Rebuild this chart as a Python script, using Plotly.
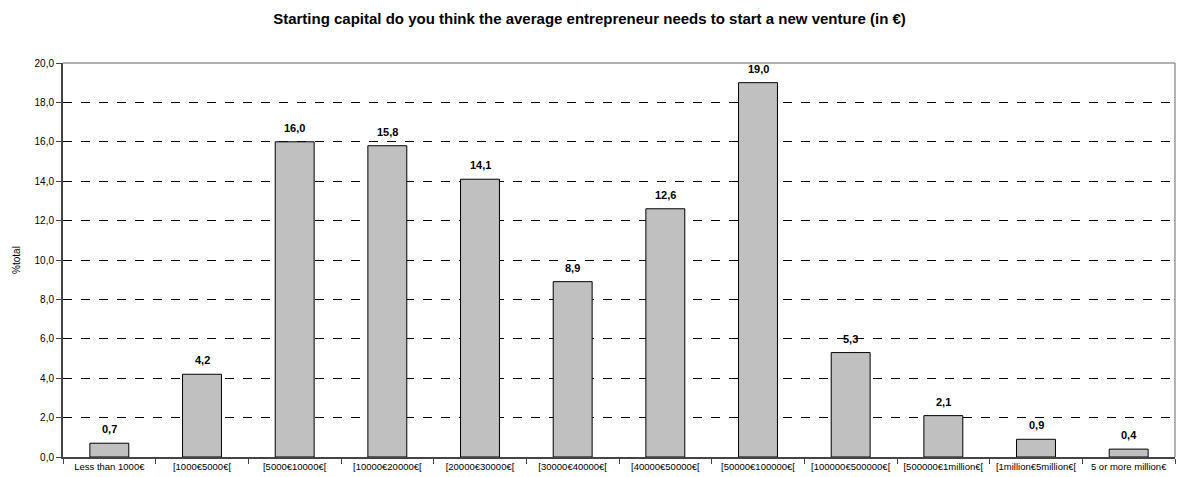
import plotly.graph_objects as go

categories = [
    "Less than 1000€", "[1000€5000€[", "[5000€10000€[", "[10000€20000€[",
    "[20000€30000€[", "[30000€40000€[", "[40000€50000€[", "[50000€100000€[",
    "[100000€500000€[", "[500000€1million€[", "[1million€5million€[", "5 or more million€",
]
values = [0.7, 4.2, 16.0, 15.8, 14.1, 8.9, 12.6, 19.0, 5.3, 2.1, 0.9, 0.4]
labels = [f"{v:.1f}".replace(".", ",") for v in values]
y_ticks = [0, 2, 4, 6, 8, 10, 12, 14, 16, 18, 20]
y_tick_text = [f"{t:.1f}".replace(".", ",") for t in y_ticks]

FONT = "Liberation Sans, Arial, sans-serif"

fig = go.Figure(
    go.Bar(
        x=categories,
        y=values,
        marker=dict(color="#c0c0c0", line=dict(color="black", width=1)),
        width=0.42,
    )
)

# Value labels above each bar
for cat, val, lab in zip(categories, values, labels):
    fig.add_annotation(
        x=cat, y=val, text=f"<b>{lab}</b>", showarrow=False,
        yanchor="middle", yshift=14,
        font=dict(family=FONT, size=11, color="black"),
    )

fig.update_layout(
    width=1179,
    height=477,
    margin=dict(l=63, r=4, t=63, b=20),
    paper_bgcolor="white",
    plot_bgcolor="white",
    showlegend=False,
    font=dict(family=FONT, color="black"),
    title=dict(
        text="<b>Starting capital do you think the average entrepreneur needs to start a new venture (in €)</b>",
        x=0.5, xanchor="center", y=1 - 19 / 477, yanchor="middle",
        font=dict(family=FONT, size=15, color="black"),
    ),
    xaxis=dict(
        type="category",
        tickson="boundaries",
        ticks="outside",
        ticklen=5,
        tickcolor="#444",
        showline=True,
        linecolor="#444",
        linewidth=2,
        showgrid=False,
        tickfont=dict(family=FONT, size=9.5, color="black"),
    ),
    yaxis=dict(
        range=[0, 20],
        tickvals=y_ticks,
        ticktext=y_tick_text,
        ticks="outside",
        ticklen=5,
        tickcolor="#444",
        showline=True,
        linecolor="#444",
        linewidth=2,
        showgrid=True,
        gridcolor="black",
        griddash="dash",
        gridwidth=1,
        zeroline=False,
        tickfont=dict(family=FONT, size=10, color="black"),
        title=dict(text="%total", font=dict(family=FONT, size=10, color="black"), standoff=12),
    ),
)

# Plot-area frame: grey line along the top and right edges
fig.add_shape(type="line", xref="paper", yref="paper", x0=0, x1=1, y0=1, y1=1,
              line=dict(color="#999", width=1.5), layer="above")
fig.add_shape(type="line", xref="paper", yref="paper", x0=1, x1=1, y0=0, y1=1,
              line=dict(color="#999", width=1.5), layer="above")

fig.write_html("out.html")
